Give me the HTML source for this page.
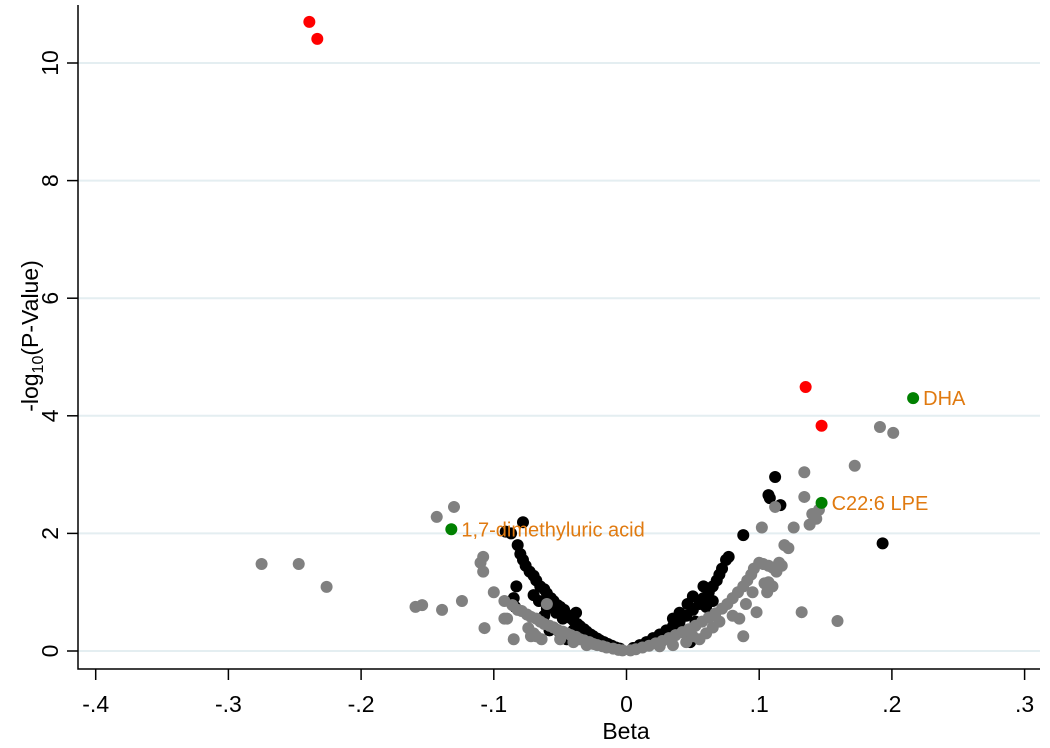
<!DOCTYPE html>
<html><head><meta charset="utf-8"><style>
body{margin:0;background:#fff}
svg text{font-family:"Liberation Sans",Arial,sans-serif}
</style></head><body>
<svg id="chart" width="1050" height="743" xmlns="http://www.w3.org/2000/svg">
<g id="grid"></g>
<g id="axes"></g>
<g id="pts"></g>
<g id="labels"></g>
</svg>
<script>
const xTicks=[-0.4,-0.3,-0.2,-0.1,0,0.1,0.2,0.3];
const xTickLabels=["-.4","-.3","-.2","-.1","0",".1",".2",".3"];
const yTicks=[0,2,4,6,8,10];
const blackPts=[[-0.091,2.03],[-0.087,2.0],[-0.078,2.19],[-0.082,1.8],[-0.08,1.65],[-0.078,1.55],[-0.076,1.45],[-0.073,1.35],[-0.07,1.28],[-0.068,1.2],[-0.065,1.1],[-0.062,1.05],[-0.06,0.98],[-0.057,0.9],[-0.055,0.85],[-0.052,0.78],[-0.05,0.75],[-0.047,0.7],[-0.045,0.62],[-0.042,0.56],[-0.04,0.52],[-0.037,0.46],[-0.035,0.42],[-0.032,0.37],[-0.03,0.33],[-0.027,0.28],[-0.025,0.25],[-0.022,0.21],[-0.02,0.18],[-0.017,0.15],[-0.014,0.12],[-0.011,0.09],[-0.008,0.06],[-0.005,0.04],[-0.083,1.1],[-0.085,0.9],[-0.084,0.75],[-0.062,0.6],[-0.055,0.4],[-0.05,0.3],[-0.058,0.35],[-0.045,0.2],[-0.07,0.95],[-0.066,0.85],[-0.06,0.72],[-0.048,0.55],[-0.053,0.65],[-0.038,0.65],[-0.035,0.3],[-0.04,0.35],
[0.005,0.05],[0.01,0.1],[0.015,0.15],[0.02,0.22],[0.025,0.28],[0.03,0.35],[0.035,0.42],[0.04,0.5],[0.045,0.6],[0.05,0.7],[0.055,0.8],[0.058,0.9],[0.062,1.0],[0.065,1.1],[0.068,1.2],[0.07,1.3],[0.072,1.4],[0.075,1.55],[0.077,1.6],[0.088,1.97],[0.046,0.8],[0.05,0.93],[0.04,0.65],[0.035,0.55],[0.06,0.75],[0.052,0.5],[0.03,0.22],[0.045,0.35],[0.065,0.85],[0.058,1.1],[0.048,0.15],
[0.193,1.83],[0.112,2.96],[0.107,2.65],[0.108,2.6],[0.116,2.48]];
const greyPts=[[-0.275,1.48],[-0.247,1.48],[-0.226,1.09],[-0.159,0.75],[-0.154,0.78],[-0.139,0.70],[-0.124,0.85],[-0.143,2.28],[-0.13,2.45],[-0.107,0.39],
[-0.108,1.6],[-0.11,1.5],[-0.108,1.35],[-0.1,1.0],[-0.092,0.85],[-0.086,0.78],[-0.082,0.7],[-0.079,0.68],[-0.075,0.62],[-0.072,0.58],[-0.068,0.55],[-0.065,0.5],[-0.062,0.46],[-0.058,0.43],[-0.055,0.4],[-0.052,0.36],[-0.048,0.33],[-0.045,0.3],[-0.042,0.27],[-0.038,0.24],[-0.035,0.2],[-0.032,0.18],[-0.028,0.15],[-0.025,0.12],[-0.022,0.1],[-0.018,0.08],[-0.015,0.06],[-0.01,0.04],[-0.006,0.02],[-0.003,0.01],[-0.074,0.39],[-0.072,0.25],[-0.068,0.25],[-0.064,0.2],[-0.07,0.3],[-0.085,0.2],[-0.09,0.55],[-0.06,0.8],[-0.092,0.55],[-0.04,0.15],[-0.03,0.1],[-0.05,0.2],
[0.003,0.01],[0.007,0.03],[0.012,0.06],[0.017,0.09],[0.022,0.13],[0.027,0.17],[0.032,0.22],[0.037,0.27],[0.042,0.32],[0.047,0.37],[0.052,0.43],[0.057,0.5],[0.062,0.57],[0.067,0.64],[0.072,0.72],[0.076,0.8],[0.08,0.9],[0.084,1.0],[0.088,1.1],[0.091,1.2],[0.094,1.3],[0.096,1.4],[0.1,1.5],[0.103,1.48],[0.107,1.45],[0.11,1.42],[0.113,1.35],[0.115,1.5],[0.117,1.45],[0.119,1.8],[0.122,1.75],[0.11,1.1],[0.104,1.15],[0.106,1.0],[0.102,2.1],[0.112,2.45],[0.126,2.1],[0.14,2.33],[0.145,2.4],[0.143,2.25],[0.138,2.15],[0.07,0.5],[0.08,0.6],[0.09,0.8],[0.06,0.3],[0.045,0.15],[0.055,0.2],[0.065,0.4],[0.088,0.25],[0.05,0.25],[0.085,0.55],[0.095,1.0],[0.035,0.1],[0.025,0.08],
[0.191,3.81],[0.201,3.71],[0.172,3.15],[0.134,3.04],[0.134,2.62],[0.159,0.51],[0.132,0.66],[0.098,0.66],[0.107,1.17]];
const redPts=[[-0.239,10.7],[-0.233,10.41],[0.135,4.49],[0.147,3.83]];
const greenPts=[[-0.132,2.07],[0.147,2.52],[0.216,4.30]];
const greenLabels=["1,7-dimethyluric acid","C22:6 LPE","DHA"];

const NS="http://www.w3.org/2000/svg";
const X=v=>626.5+v*1327;
const Y=v=>651-v*58.8;
function mk(tag,attrs,parent,txt){const e=document.createElementNS(NS,tag);for(const k in attrs)e.setAttribute(k,attrs[k]);if(txt!==undefined)e.textContent=txt;parent.appendChild(e);return e;}
const grid=document.getElementById('grid'),axes=document.getElementById('axes'),pts=document.getElementById('pts'),labs=document.getElementById('labels');
yTicks.forEach(t=>{
  const l=mk('line',{x1:78,x2:1040,y1:Y(t),y2:Y(t),stroke:'#e4eef1','stroke-width':2},grid);
  
  
  const tk=mk('line',{x1:67,x2:78,y1:Y(t),y2:Y(t),stroke:'#000','stroke-width':1.5},axes);
  
  
  const tx=mk('text',{x:0,y:0,transform:`translate(${58},${Y(t)}) rotate(-90)`,'text-anchor':'middle','font-size':23},axes,String(t));
  
  
});
xTicks.forEach((t,i)=>{
  const tk=mk('line',{x1:X(t),x2:X(t),y1:669,y2:680,stroke:'#000','stroke-width':1.5},axes);
  
  
  const tx=mk('text',{x:X(t),y:712,'text-anchor':'middle','font-size':23},axes,xTickLabels[i]);
  
  
});
const ax=mk('path',{d:'M78,5 V669 H1040',fill:'none',stroke:'#000','stroke-width':1.5},axes);


const xt=mk('text',{x:626,y:739,'text-anchor':'middle','font-size':23},axes,'Beta');


const yt=mk('text',{x:0,y:0,transform:'translate(38,336) rotate(-90)','text-anchor':'middle','font-size':23},axes);


yt.innerHTML='-log<tspan font-size="16" dy="5">10</tspan><tspan dy="-5">(P-Value)</tspan>';
function draw(arr,col,name){arr.forEach(p=>{const c=mk('circle',{cx:X(p[0]),cy:Y(p[1]),r:6,fill:col},pts);
  
  });}
draw(blackPts,'#000','point-black');
draw(greyPts,'#808080','point-grey');
draw(redPts,'#ff0000','point-red');
draw(greenPts,'#008000','point-green');
greenPts.forEach((p,i)=>{const t=mk('text',{x:X(p[0])+10,y:Y(p[1])+7,'font-size':20,fill:'#e07a10'},labs,greenLabels[i]);
  
  });
</script>
</body></html>
